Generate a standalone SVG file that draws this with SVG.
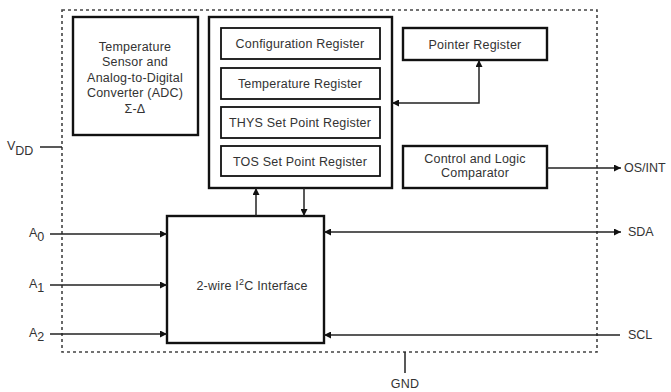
<svg xmlns="http://www.w3.org/2000/svg" width="671" height="392" viewBox="0 0 671 392">
<defs>
<style>
.box{fill:#fff;stroke:#111;stroke-width:2.4}
.ibox{fill:#fff;stroke:#111;stroke-width:1.8}
.t{font-family:"Liberation Sans",Arial,sans-serif;font-size:12.5px;letter-spacing:0.2px;fill:#333;text-anchor:middle}
.l{font-family:"Liberation Sans",Arial,sans-serif;font-size:12.5px;fill:#333}
.w{fill:none;stroke:#222;stroke-width:1.5}
</style>
<marker id="ah" viewBox="0 0 10 10" refX="10" refY="5" markerWidth="8" markerHeight="7" markerUnits="userSpaceOnUse" orient="auto-start-reverse">
<path d="M0,0 L10,5 L0,10 z" fill="#111"/>
</marker>
</defs>
<rect width="671" height="392" fill="#fff"/>
<g id="outline">
<rect x="62" y="10" width="535" height="342" fill="none" stroke="#444" stroke-width="1.6" stroke-dasharray="3,3"/>
</g>
<g id="adc">
<rect class="box" x="73" y="17" width="125" height="118"/>
<text class="t" x="135" y="51">Temperature</text>
<text class="t" x="135" y="66">Sensor and</text>
<text class="t" x="135" y="82">Analog-to-Digital</text>
<text class="t" x="135" y="97">Converter (ADC)</text>
<text class="t" x="135" y="113" font-family="Liberation Serif,serif" font-size="11">Σ-Δ</text>
</g>
<g id="registers">
<rect class="box" x="209" y="17" width="183" height="171"/>
</g>
<g id="config">
<rect class="ibox" x="221" y="28" width="159" height="31"/>
<text class="t" x="300" y="48">Configuration Register</text>
</g>
<g id="temp">
<rect class="ibox" x="221" y="68" width="159" height="31"/>
<text class="t" x="300" y="88">Temperature Register</text>
</g>
<g id="thys">
<rect class="ibox" x="221" y="107" width="159" height="31"/>
<text class="t" x="300" y="127">THYS Set Point Register</text>
</g>
<g id="tos">
<rect class="ibox" x="221" y="146" width="159" height="30"/>
<text class="t" x="300" y="166">TOS Set Point Register</text>
</g>
<g id="pointer">
<rect class="box" x="403" y="28" width="144" height="32"/>
<text class="t" x="475" y="49">Pointer Register</text>
</g>
<g id="control">
<rect class="box" x="403" y="146" width="144" height="42"/>
<text class="t" x="475" y="163">Control and Logic</text>
<text class="t" x="475" y="177">Comparator</text>
</g>
<g id="i2c">
<rect class="box" x="167" y="216" width="157" height="127"/>
<text class="t" x="252" y="290">2-wire I<tspan font-size="9" dy="-5">2</tspan><tspan dy="5">C Interface</tspan></text>
</g>
<g id="connectors">
<path class="w" d="M479,60 V103 H392" marker-start="url(#ah)" marker-end="url(#ah)"/>
<path class="w" d="M547,168 H621" marker-end="url(#ah)"/>
<path class="w" d="M256,216 V188" marker-end="url(#ah)"/>
<path class="w" d="M304,188 V216" marker-end="url(#ah)"/>
<path class="w" d="M50,234 H167" marker-end="url(#ah)"/>
<path class="w" d="M50,285 H167" marker-end="url(#ah)"/>
<path class="w" d="M50,334 H167" marker-end="url(#ah)"/>
<path class="w" d="M324,232 H621" marker-start="url(#ah)" marker-end="url(#ah)"/>
<path class="w" d="M620,335 H324" marker-end="url(#ah)"/>
<path class="w" d="M40,147 H62"/>
<path class="w" d="M405,352 V373"/>
</g>
<g id="labels">
<text class="l" x="7" y="150">V<tspan dy="5">DD</tspan></text>
<text class="l" x="29" y="237">A<tspan dy="4">0</tspan></text>
<text class="l" x="29" y="288">A<tspan dy="4">1</tspan></text>
<text class="l" x="29" y="337">A<tspan dy="4">2</tspan></text>
<text class="l" x="624" y="172">OS/INT</text>
<text class="l" x="628" y="236">SDA</text>
<text class="l" x="628" y="339">SCL</text>
<text class="t" x="405" y="388">GND</text>
</g>
</svg>
